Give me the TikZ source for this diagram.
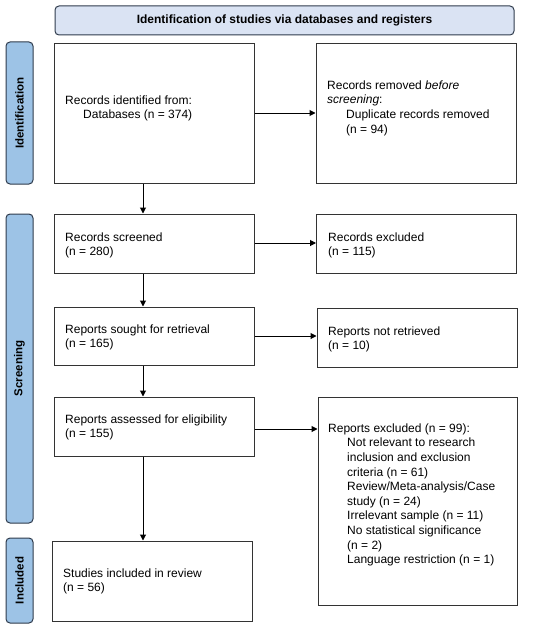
\documentclass[tikz,border=0pt]{standalone}
\usepackage{fontspec}
\setmainfont{Liberation Sans}
\usetikzlibrary{arrows.meta}
\definecolor{hdrfill}{HTML}{DAE3F3}
\definecolor{tabfill}{HTML}{9DC3E6}
\definecolor{tabline}{HTML}{2F3B4C}
\definecolor{boxline}{HTML}{333333}
\begin{document}
\begin{tikzpicture}[x=1pt,y=-1pt,
  box/.style={draw=boxline,line width=1pt,rectangle,inner sep=0pt},
  hdr/.style={draw=tabline,line width=1pt,fill=hdrfill,rounded corners=4pt,inner sep=0pt,
    font=\fontsize{12}{14}\selectfont\bfseries},
  tab/.style={draw=tabline,line width=1pt,fill=tabfill,rounded corners=4pt,inner sep=0pt},
  tabtxt/.style={rotate=90,font=\fontsize{11.5}{13}\selectfont\bfseries},
  txt/.style={anchor=north west,inner sep=0pt,align=left,
    font=\fontsize{12}{14.6}\selectfont},
  arr/.style={-{Triangle[length=6pt,width=6pt]},line width=1pt,black}]
\useasboundingbox (0,0) rectangle (550,634);
% header
\node[hdr,minimum width=459pt,minimum height=29pt] (header) at (284.5,20.5) {Identification of studies via databases and registers};
% side tabs
\node[tab,minimum width=27pt,minimum height=142pt] (tabid) at (19.5,113) {};
\node[tabtxt] (tabidt) at (tabid.center) {Identification};
\node[tab,minimum width=27pt,minimum height=309pt] (tabsc) at (19.5,368.5) {};
\node[tabtxt] (tabsct) at (tabsc.center) {Screening};
\node[tab,minimum width=27pt,minimum height=85pt] (tabin) at (19.5,580.5) {};
\node[tabtxt] (tabint) at (tabin.center) {Included};
% boxes
\node[box,minimum width=200pt,minimum height=139pt] (ident) at (154,113.5) {};
\node[box,minimum width=200pt,minimum height=139pt] (removed) at (416,113.5) {};
\node[box,minimum width=200pt,minimum height=59pt] (screened) at (154,243.5) {};
\node[box,minimum width=200pt,minimum height=59pt] (excl) at (416.5,243.5) {};
\node[box,minimum width=200pt,minimum height=58pt] (sought) at (154,336) {};
\node[box,minimum width=200pt,minimum height=59pt] (notret) at (417,337.5) {};
\node[box,minimum width=200pt,minimum height=59pt] (assessed) at (154,426.5) {};
\node[box,minimum width=199pt,minimum height=208pt] (repexcl) at (417.5,501) {};
\node[box,minimum width=200pt,minimum height=80pt] (included) at (152,581) {};
% texts
\node[txt] (t1) at (65,93.8) {\strut Records identified from:\\\hspace*{18pt}Databases (n = 374)};
\node[txt] (t2) at (327,78.8) {\strut Records removed \textit{before}\\\textit{screening}:\\\hspace*{19pt}Duplicate records removed\\\hspace*{19pt}(n = 94)};
\node[txt] (t3) at (65,230.8) {\strut Records screened\\(n = 280)};
\node[txt] (t4) at (328,230.8) {\strut Records excluded\\(n = 115)};
\node[txt] (t5) at (65,322.8) {\strut Reports sought for retrieval\\(n = 165)};
\node[txt] (t6) at (328,324.8) {\strut Reports not retrieved\\(n = 10)};
\node[txt] (t7) at (65,412.8) {\strut Reports assessed for eligibility\\(n = 155)};
\node[txt] (t8) at (328,421.8) {\strut Reports excluded (n = 99):\\
\hspace*{19pt}Not relevant to research\\
\hspace*{19pt}inclusion and exclusion\\
\hspace*{19pt}criteria (n = 61)\\
\hspace*{19pt}Review/Meta-analysis/Case\\
\hspace*{19pt}study (n = 24)\\
\hspace*{19pt}Irrelevant sample (n = 11)\\
\hspace*{19pt}No statistical significance\\
\hspace*{19pt}(n = 2)\\
\hspace*{19pt}Language restriction (n = 1)};
\node[txt] (t9) at (63,566.8) {\strut Studies included in review\\(n = 56)};
% arrows
\draw[arr] (ident.east |- 0,113) -- (removed.west |- 0,113);
\draw[arr] (screened.east |- 0,243) -- (excl.west |- 0,243);
\draw[arr] (sought.east |- 0,336) -- (notret.west |- 0,336);
\draw[arr] (assessed.east |- 0,429) -- (repexcl.west |- 0,429);
\draw[arr] (143,0 |- ident.south) -- (143,0 |- screened.north);
\draw[arr] (143,0 |- screened.south) -- (143,0 |- sought.north);
\draw[arr] (143,0 |- sought.south) -- (143,0 |- assessed.north);
\draw[arr] (143,0 |- assessed.south) -- (143,0 |- included.north);
\end{tikzpicture}
\end{document}
